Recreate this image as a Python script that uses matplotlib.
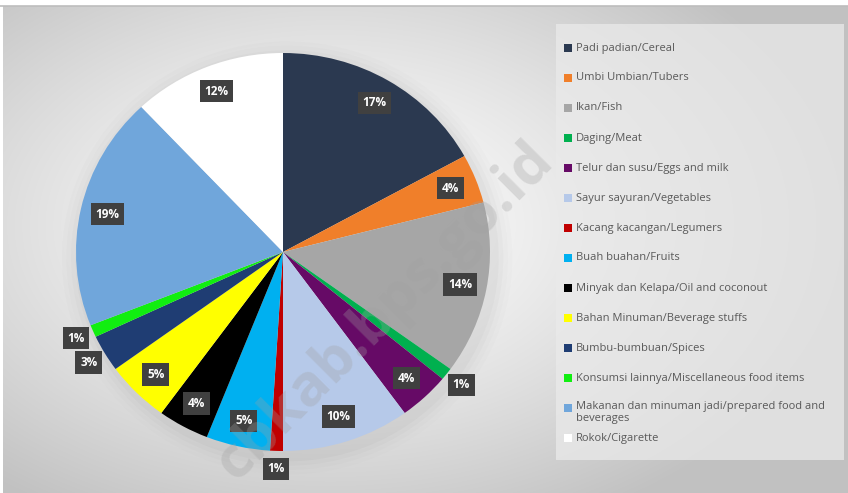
import numpy as np
import matplotlib.pyplot as plt
from matplotlib.patches import Rectangle, Ellipse

# Data
categories = [
    'Padi padian/Cereal',
    'Umbi Umbian/Tubers',
    'Ikan/Fish',
    'Daging/Meat',
    'Telur dan susu/Eggs and milk',
    'Sayur sayuran/Vegetables',
    'Kacang kacangan/Legumers',
    'Buah buahan/Fruits',
    'Minyak dan Kelapa/Oil and coconout',
    'Bahan Minuman/Beverage stuffs',
    'Bumbu-bumbuan/Spices',
    'Konsumsi lainnya/Miscellaneous food items',
    'Makanan dan minuman jadi/prepared food and\nbeverages',
    'Rokok/Cigarette',
]
shares = [17, 4, 14, 1, 4, 10, 1, 5, 4, 5, 3, 1, 19, 12]
colors = ['#2B3950', '#F07F2A', '#A6A6A6', '#00B04F', '#660A66', '#B6C9E9',
          '#C00000', '#00B0F0', '#000000', '#FFFF00', '#1F3D73', '#11EE11',
          '#70A6DB', '#FFFFFF']

W, H = 848, 493
fig = plt.figure(figsize=(W / 100, H / 100), dpi=100)
fig.patch.set_facecolor('white')

# Background in pixel coordinates, soft radial gradient
bg = fig.add_axes([0, 0, 1, 1])
yy, xx = np.mgrid[6:493, 3:848]
d = np.sqrt(((xx - 330) / 520.0) ** 2 + ((yy - 225) / 330.0) ** 2)
shade = np.clip(1.0 - 0.24 * d ** 1.3, 0.76, 1.0)
bg.imshow(np.dstack([shade] * 3), aspect='auto', extent=(3, 848, 493, 6))
bg.plot([0, 848], [6, 6], color='#BDBDBD', lw=1.2)
bg.set_xlim(0, W)
bg.set_ylim(H, 0)
bg.axis('off')

# Legend box
bg.add_patch(Rectangle((556, 24), 288, 436, facecolor='#EAEAEA', alpha=0.75,
                       edgecolor='none'))

# Pie
cx, cy, rx, ry = 283, 252, 207, 199
ax = fig.add_axes([(cx - rx) / W, (H - cy - ry) / H, 2 * rx / W, 2 * ry / H])
ax.patch.set_alpha(0)

# faint shadow behind the pie
for k, a in enumerate([0.04, 0.03, 0.02, 0.015]):
    rr = 2 * (1.0 + 0.022 * (k + 1))
    ax.add_patch(Ellipse((0.02, -0.03), rr, rr, color='#606060', alpha=a,
                         lw=0, zorder=0, clip_on=False))

wedges, _ = ax.pie(shares, colors=colors, startangle=90, counterclock=False,
                   wedgeprops=dict(linewidth=0))
ax.set_xlim(-1, 1)
ax.set_ylim(-1, 1)
ax.set_aspect('auto')
ax.axis('off')

for w, v in zip(wedges, shares):
    mid = np.deg2rad((w.theta1 + w.theta2) / 2)
    dist = 1.09 if v <= 3 else 0.87
    ax.text(dist * np.cos(mid), dist * np.sin(mid), f'{v}%', color='white',
            fontsize=8.5, fontweight='bold', ha='center', va='center',
            family='Open Sans', zorder=6,
            bbox=dict(boxstyle='square,pad=0.4', facecolor='#404040',
                      edgecolor='none'))

# Legend entries (drawn by hand to match spacing)
ly = 48
for lab, col in zip(categories, colors):
    bg.add_patch(Rectangle((564, ly - 4), 8, 8, facecolor=col,
                           edgecolor='none', zorder=4))
    if '\n' in lab:
        bg.text(576, ly - 7, lab, fontsize=8, color='#595959', va='top',
                family='Open Sans', linespacing=1.1, zorder=4)
    else:
        bg.text(576, ly, lab, fontsize=8, color='#595959', va='center',
                family='Open Sans', zorder=4)
    ly += 30

# Watermark over everything
fig.text(385 / W, 1 - 312 / H, 'cbkab.bps.go.id', rotation=45, fontsize=42,
         fontweight='bold', color='#A0A0A0', alpha=0.3, ha='center',
         va='center', family='Open Sans', zorder=10)

fig.savefig('out.png', dpi=100)
